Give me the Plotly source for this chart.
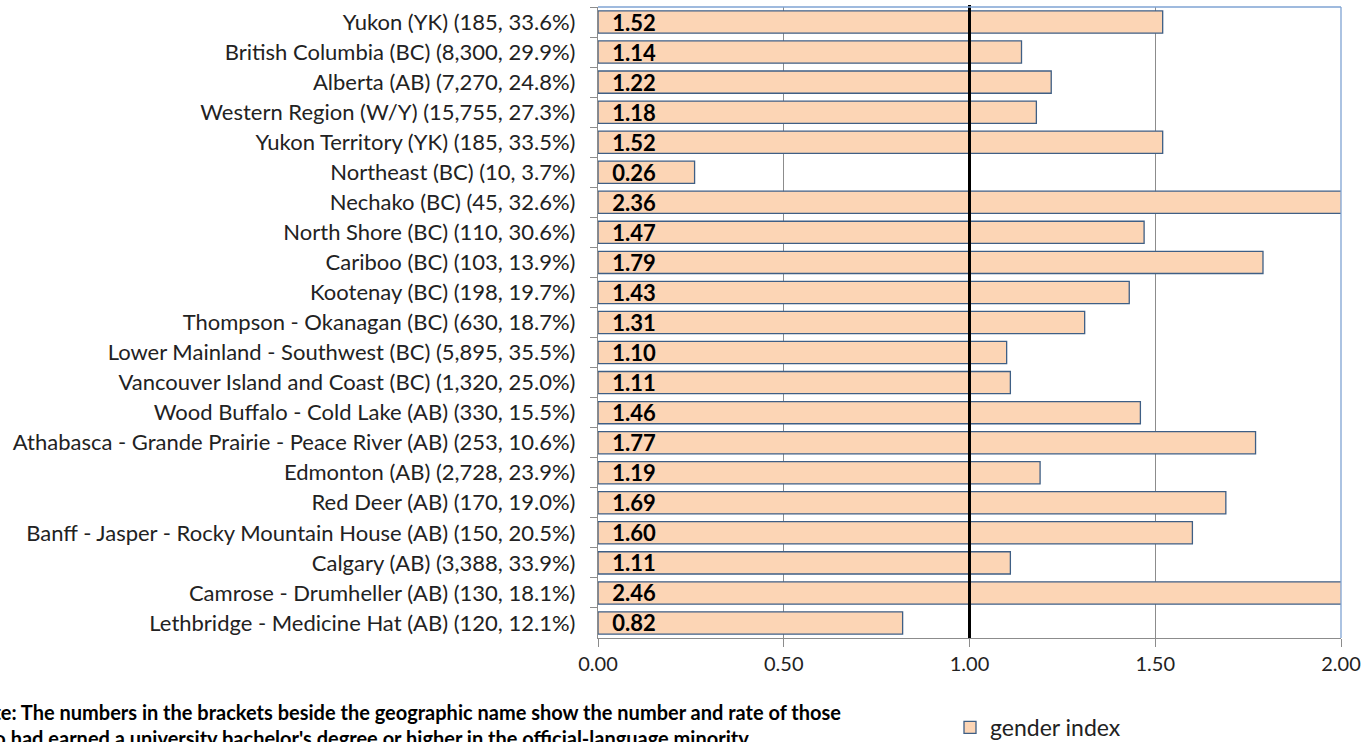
import plotly.graph_objects as go

regions = [
    "Yukon (YK) (185, 33.6%)",
    "British Columbia (BC) (8,300, 29.9%)",
    "Alberta (AB) (7,270, 24.8%)",
    "Western Region (W/Y) (15,755, 27.3%)",
    "Yukon Territory (YK) (185, 33.5%)",
    "Northeast (BC) (10, 3.7%)",
    "Nechako (BC) (45, 32.6%)",
    "North Shore (BC) (110, 30.6%)",
    "Cariboo (BC) (103, 13.9%)",
    "Kootenay (BC) (198, 19.7%)",
    "Thompson - Okanagan (BC) (630, 18.7%)",
    "Lower Mainland - Southwest (BC) (5,895, 35.5%)",
    "Vancouver Island and Coast (BC) (1,320, 25.0%)",
    "Wood Buffalo - Cold Lake (AB) (330, 15.5%)",
    "Athabasca - Grande Prairie - Peace River (AB) (253, 10.6%)",
    "Edmonton (AB) (2,728, 23.9%)",
    "Red Deer (AB) (170, 19.0%)",
    "Banff - Jasper - Rocky Mountain House (AB) (150, 20.5%)",
    "Calgary (AB) (3,388, 33.9%)",
    "Camrose - Drumheller (AB) (130, 18.1%)",
    "Lethbridge - Medicine Hat (AB) (120, 12.1%)",
]
gender_index = [1.52, 1.14, 1.22, 1.18, 1.52, 0.26, 2.36, 1.47, 1.79, 1.43, 1.31,
                1.10, 1.11, 1.46, 1.77, 1.19, 1.69, 1.60, 1.11, 2.46, 0.82]
x_ticks = [0.0, 0.5, 1.0, 1.5, 2.0]
parity_line = 1.0
note_lines = [
    "Note: The numbers in the brackets beside the geographic name show the number and rate of those",
    "who had earned a university bachelor's degree or higher in the official-language minority",
]

FONT = "Lato"
ML, MR, MT, MB = 598, 25, 7, 104
plot_w = 1366 - ML - MR
plot_h = 742 - MT - MB

fig = go.Figure()
fig.add_trace(go.Bar(
    y=regions, x=gender_index, orientation="h", name="gender index",
    marker=dict(color="#FCD5B5", line=dict(color="#3F5F85", width=1.3)),
    width=0.74,
    text=["\u00a0\u00a0<b>%.2f</b>" % v for v in gender_index],
    textposition="inside", insidetextanchor="start", constraintext="none",
    textfont=dict(family=FONT, size=22, color="black"),
    cliponaxis=True,
))

fig.add_shape(type="line", xref="x", yref="paper", x0=parity_line, x1=parity_line,
              y0=0, y1=1.003, line=dict(color="black", width=3))
# blue top/right frame
fig.add_shape(type="line", xref="paper", yref="paper", x0=0, x1=1, y0=1, y1=1,
              line=dict(color="#7FA3D3", width=1.3))
fig.add_shape(type="line", xref="paper", yref="paper", x0=1, x1=1, y0=0, y1=1,
              line=dict(color="#7FA3D3", width=1.3))

fig.add_annotation(xref="paper", yref="paper", x=(-ML - 35) / plot_w,
                   y=(MT + plot_h - 698) / plot_h,
                   xanchor="left", yanchor="top", align="left", showarrow=False,
                   text="<b>" + note_lines[0] + "<br>" + note_lines[1] + "</b>",
                   font=dict(family=FONT, size=20, color="black"))

fig.update_layout(
    width=1366, height=742,
    margin=dict(l=ML, r=MR, t=MT, b=MB, autoexpand=False),
    plot_bgcolor="white", paper_bgcolor="white",
    font=dict(family=FONT, size=22, color="#222"),
    bargap=0.26,
    showlegend=True,
    legend=dict(orientation="h", x=(990 - 40 - ML) / plot_w, xanchor="left",
                y=(MT + plot_h - 706) / plot_h, yanchor="top",
                font=dict(family=FONT, size=23, color="#222")),
    xaxis=dict(range=[0, 2], tickvals=x_ticks, tickformat=".2f",
               showgrid=True, gridcolor="#8C8C8C", gridwidth=1,
               showline=True, linecolor="#8C8C8C", linewidth=1.3,
               ticks="outside", ticklen=8, tickcolor="#8C8C8C",
               tickfont=dict(family=FONT, size=20, color="#222"),
               zeroline=False, fixedrange=True, automargin=False),
    yaxis=dict(autorange="reversed", type="category",
               showline=True, linecolor="#8C8C8C", linewidth=1.3,
               ticks="outside", ticklen=7, tickcolor="#8C8C8C", tickson="boundaries",
               ticklabelstandoff=17, automargin=False,
               tickfont=dict(family=FONT, size=22, color="#222"),
               showgrid=False, fixedrange=True),
)
fig.write_html("out.html", config={"displayModeBar": False},
               post_script="document.body.style.margin='0';document.body.style.overflow='hidden';")
